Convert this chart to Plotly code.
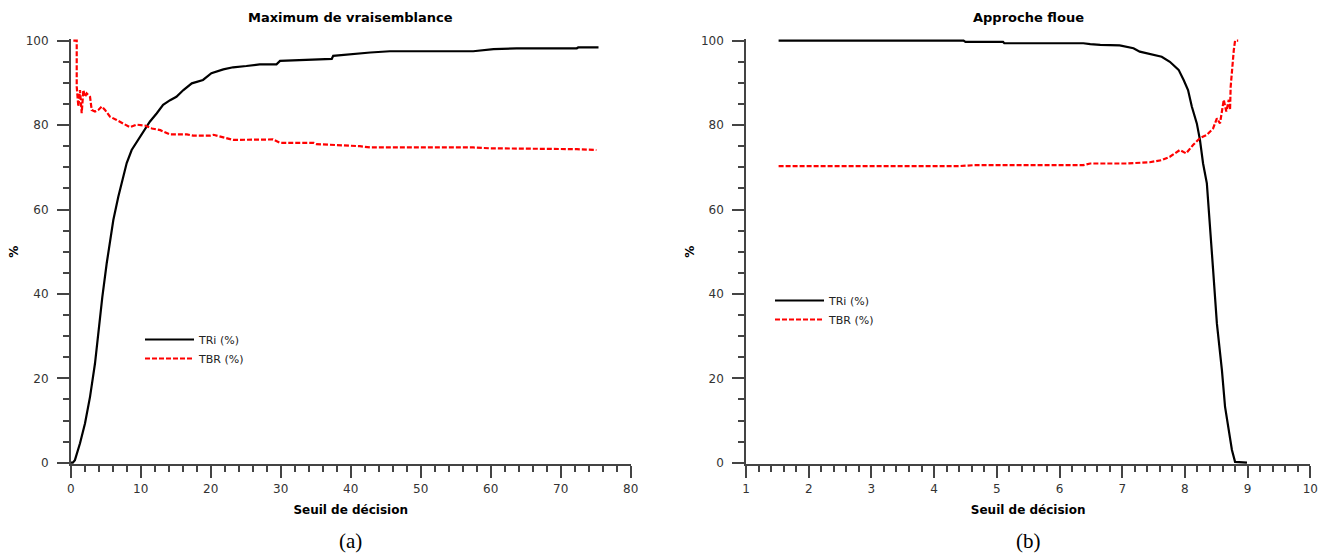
import plotly.graph_objects as go

# ---- Data: (a) Maximum de vraisemblance ----
ml_tri_x = [0, 0.3, 0.6, 1.33, 2.04, 2.76, 3.47, 3.95, 4.52, 5.14, 5.61, 6.09, 6.8, 7.28, 8.0,
            8.71, 9.66, 10.6, 11.3, 12.3, 13.2, 14.2, 15.1, 16.1, 17.3, 18.9, 20.1, 21.8, 23.2,
            25.1, 27.0, 29.4, 29.9, 37.3, 37.5, 42.8, 45.6, 57.5, 60.4, 63.7, 72.3, 72.5, 75.4]
ml_tri_y = [0, 0, 0.6, 4.6, 9.3, 15.6, 23.5, 31.4, 39.3, 47.2, 52, 57.5, 63, 66.2, 71,
            74.1, 76.5, 78.8, 80.8, 82.8, 84.8, 85.9, 86.7, 88.3, 89.9, 90.7, 92.3, 93.2, 93.7,
            94.0, 94.4, 94.4, 95.2, 95.7, 96.4, 97.2, 97.5, 97.5, 98.0, 98.2, 98.2, 98.4, 98.4]

ml_tbr_x = [0.38, 0.86, 0.86, 1.09, 1.33, 1.57, 1.81, 2.04, 2.28, 2.76, 3.0, 3.47, 3.95, 4.43,
            4.9, 5.61, 6.56, 7.52, 8.47, 9.42, 10.6, 11.6, 12.8, 14.2, 16.6, 17.5, 19.9, 20.4,
            22.3, 23.2, 28.9, 29.9, 34.7, 35.1, 41.3, 42.8, 57.5, 59.9, 72.3, 75.1]
ml_tbr_y = [100, 100, 89.1, 84.4, 88.3, 82.8, 88.3, 86.7, 87.5, 86.7, 83.6, 83.2, 83.6, 84.4,
            83.6, 82.0, 81.2, 80.4, 79.5, 80.1, 79.9, 79.2, 78.8, 77.8, 77.8, 77.5, 77.5, 77.7,
            76.9, 76.5, 76.6, 75.8, 75.8, 75.5, 75.0, 74.7, 74.7, 74.5, 74.3, 74.1]

# ---- Data: (b) Approche floue ----
fz_tri_x = [1.52, 4.47, 4.5, 5.1, 5.12, 6.38, 6.49, 6.65, 6.96, 7.18, 7.28, 7.44, 7.63, 7.76,
            7.9, 7.98, 8.05, 8.11, 8.19, 8.24, 8.29, 8.35, 8.40, 8.45, 8.51, 8.59, 8.64, 8.7,
            8.75, 8.8, 8.99]
fz_tri_y = [100, 100, 99.7, 99.7, 99.4, 99.4, 99.2, 99.0, 98.9, 98.2, 97.4, 96.8, 96.2, 95.0,
            93.1, 90.7, 88.3, 84.4, 80.4, 76.5, 70.9, 66.2, 56.7, 45.7, 33.0, 22.0, 13.3, 7.0,
            3.0, 0.2, 0]

fz_tbr_x = [1.52, 4.42, 4.63, 6.38, 6.49, 7.07, 7.44, 7.63, 7.76, 7.92, 8.02, 8.13, 8.24, 8.35,
            8.45, 8.51, 8.56, 8.62, 8.66, 8.7, 8.72, 8.73, 8.78, 8.8, 8.85]
fz_tbr_y = [70.3, 70.3, 70.5, 70.5, 70.9, 70.9, 71.2, 71.7, 72.5, 74.1, 73.3, 75.3, 76.9, 77.7,
            79.2, 81.6, 80.4, 86.0, 83.2, 86.0, 83.6, 89.1, 97.8, 100, 100]

titles = ["Maximum de vraisemblance", "Approche floue"]
captions = ["(a)", "(b)"]
series_names = ["TRi (%)", "TBR (%)"]

W, H = 1328, 557
PAD = 0.4  # small range padding so lines at 0/100 are not clipped
px_per_pct = (462.7 - 40.7) / 100.0
xl = (70.7 / W, 630.7 / W)
xr = (746.0 / W, 1310.3 / W)
yd = (1 - (462.7 + PAD * px_per_pct) / H, 1 - (40.7 - PAD * px_per_pct) / H)

black_line = dict(color="black", width=2.2)
red_line = dict(color="#ff0000", width=2.2, dash="5px,2px")

fig = go.Figure()
fig.add_trace(go.Scatter(x=ml_tri_x, y=ml_tri_y, mode="lines", name=series_names[0],
                         line=black_line, xaxis="x", yaxis="y", legend="legend"))
fig.add_trace(go.Scatter(x=ml_tbr_x, y=ml_tbr_y, mode="lines", name=series_names[1],
                         line=red_line, xaxis="x", yaxis="y", legend="legend"))
fig.add_trace(go.Scatter(x=fz_tri_x, y=fz_tri_y, mode="lines", name=series_names[0],
                         line=black_line, xaxis="x2", yaxis="y2", legend="legend2"))
fig.add_trace(go.Scatter(x=fz_tbr_x, y=fz_tbr_y, mode="lines", name=series_names[1],
                         line=red_line, xaxis="x2", yaxis="y2", legend="legend2"))

tickfont = dict(family="DejaVu Sans", size=12, color="#333333")
titlefont = dict(family="DejaVu Sans", size=12, color="black")
axcol = "#444444"

def xaxis(domain, rng, dtick, minor, anchor):
    return dict(domain=domain, range=rng, anchor=anchor, showgrid=False, zeroline=False,
                automargin=False,
                showline=True, linecolor=axcol, linewidth=1.5, ticks="outside", ticklen=12,
                tickwidth=1.5, tickcolor=axcol, dtick=dtick, tick0=rng[0], tickfont=tickfont,
                minor=dict(dtick=minor, ticks="outside", ticklen=6, tickwidth=1.5, tickcolor=axcol,
                           showgrid=False),
                title=dict(text="<b>Seuil de décision</b>", font=titlefont, standoff=11))

def yaxis(domain, anchor):
    return dict(domain=domain, range=[-PAD, 100 + PAD], anchor=anchor, showgrid=False,
                zeroline=False, automargin=False,
                showline=True, linecolor=axcol, linewidth=1.5, ticks="outside", ticklen=12,
                tickwidth=1.5, tickcolor=axcol, dtick=20, tick0=0, tickfont=tickfont,
                ticklabelstandoff=6,
                minor=dict(dtick=5, tick0=0, ticks="outside", ticklen=6, tickwidth=1.5,
                           tickcolor=axcol, showgrid=False),
                title=dict(text="<b>%</b>", font=titlefont, standoff=4))

legfont = dict(family="DejaVu Sans", size=11, color="#222222")
fig.update_layout(
    width=W, height=H, margin=dict(l=0, r=0, t=0, b=0, autoexpand=False),
    paper_bgcolor="white", plot_bgcolor="white",
    xaxis=xaxis(xl, [0, 80], 10, 2, "y"),
    yaxis=yaxis(yd, "x"),
    xaxis2=xaxis(xr, [1, 10], 1, 0.2, "y2"),
    yaxis2=yaxis(yd, "x2"),
    legend=dict(x=140 / W, y=1 - 325 / H, xanchor="left", yanchor="top", font=legfont,
                bgcolor="rgba(0,0,0,0)", itemwidth=49, tracegroupgap=0),
    legend2=dict(x=770 / W, y=1 - 286 / H, xanchor="left", yanchor="top", font=legfont,
                 bgcolor="rgba(0,0,0,0)", itemwidth=49, tracegroupgap=0),
    showlegend=True,
)

annotations = []
for xc, t in zip([(xl[0] + xl[1]) / 2, (xr[0] + xr[1]) / 2], titles):
    annotations.append(dict(text=f"<b>{t}</b>", x=xc, y=1 - 18 / H, xref="paper", yref="paper",
                            showarrow=False, xanchor="center", yanchor="middle",
                            font=dict(family="DejaVu Sans", size=13, color="black")))
for xc, c in zip([350 / W, 1028 / W], captions):
    annotations.append(dict(text=c, x=xc, y=1 - 541 / H, xref="paper", yref="paper",
                            showarrow=False, xanchor="center", yanchor="middle",
                            font=dict(family="Liberation Serif", size=21, color="black")))
fig.update_layout(annotations=annotations)

fig.write_html(
    "out.html",
    config={"displayModeBar": False},
    post_script="document.body.style.margin='0';document.body.style.overflow='hidden';",
)
